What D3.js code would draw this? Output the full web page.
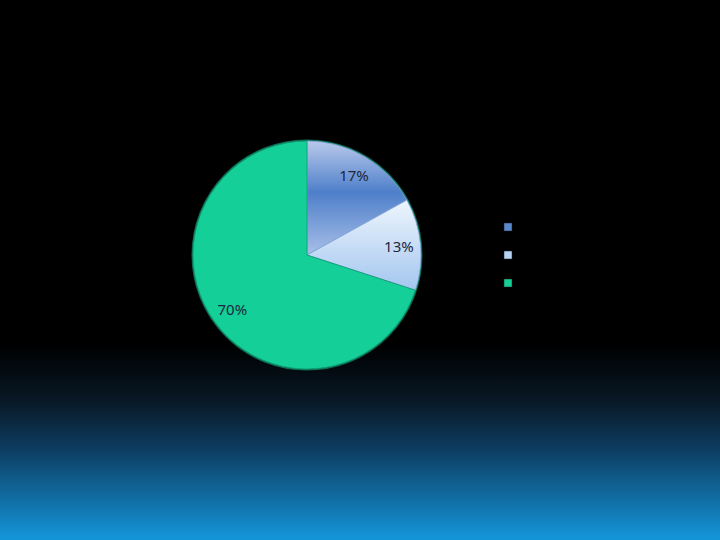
<!DOCTYPE html>
<html>
<head>
<meta charset="utf-8">
<script src="https://cdn.jsdelivr.net/npm/d3@7"></script>
<style>
  html, body { margin: 0; padding: 0; background: #000; }
</style>
</head>
<body>
<div id="chart"></div>
<script>
// === Data ===
const categories = ["A", "B", "C"];
const shares = [17, 13, 70];
const labels = ["17%", "13%", "70%"];

const W = 720, H = 540;
const svg = d3.select("#chart").append("svg")
  .attr("width", W).attr("height", H);

const defs = svg.append("defs");

// background: black, fading to blue at the bottom
const bg = defs.append("linearGradient").attr("id", "bg")
  .attr("x1", 0).attr("y1", 0).attr("x2", 0).attr("y2", 1);
bg.append("stop").attr("offset", "0.64").attr("stop-color", "#000000");
bg.append("stop").attr("offset", "0.74").attr("stop-color", "#081824");
bg.append("stop").attr("offset", "0.83").attr("stop-color", "#0d3c60");
bg.append("stop").attr("offset", "1").attr("stop-color", "#1496da");
svg.append("rect").attr("width", W).attr("height", H).attr("fill", "url(#bg)");

// slice fills
const g1 = defs.append("linearGradient").attr("id", "s0")
  .attr("x1", 0).attr("y1", 0).attr("x2", 0).attr("y2", 1);
g1.append("stop").attr("offset", "0").attr("stop-color", "#b9c9ea");
g1.append("stop").attr("offset", "0.45").attr("stop-color", "#4e7fca");
g1.append("stop").attr("offset", "1").attr("stop-color", "#a9bfe8");

const g2 = defs.append("linearGradient").attr("id", "s1")
  .attr("x1", 0).attr("y1", 0).attr("x2", 0).attr("y2", 1);
g2.append("stop").attr("offset", "0").attr("stop-color", "#eef5fd");
g2.append("stop").attr("offset", "1").attr("stop-color", "#a3c6ef");

const fills = ["url(#s0)", "url(#s1)", "#14cf97"];
const legendFills = ["#5b87cc", "#b7d3f4", "#14cf97"];

// === Pie ===
const cx = 307, cy = 255, R = 114;
const pie = d3.pie().sort(null).value(d => d);
const arcs = pie(shares);
const arc = d3.arc().innerRadius(0).outerRadius(R);
const labelArc = d3.arc().innerRadius(R * 0.81).outerRadius(R * 0.81);

const g = svg.append("g").attr("transform", `translate(${cx},${cy})`);

g.append("circle").attr("r", R + 0.5)
  .attr("fill", "none").attr("stroke", "#0b6e52").attr("stroke-width", 2);

g.selectAll(".slice")
  .data(arcs)
  .join("path")
  .attr("class", "slice")
  .attr("d", arc)
  .attr("fill", (d, i) => fills[i])
  .attr("stroke", (d, i) => i === 2 ? "#109c74" : "#7ea6dc")
  .attr("stroke-width", 0.8);

g.selectAll(".lbl")
  .data(arcs)
  .join("text")
  .attr("class", "lbl")
  .attr("transform", d => `translate(${labelArc.centroid(d)})`)
  .attr("text-anchor", "middle")
  .attr("dy", "0.35em")
  .attr("fill", "#1c2740")
  .attr("font-family", "'Noto Sans', sans-serif")
  .attr("font-size", 15)
  .text((d, i) => labels[i]);

// === Legend (swatches only, text not visible) ===
const leg = svg.append("g").attr("transform", "translate(504,223)");
leg.selectAll("rect")
  .data(categories)
  .join("rect")
  .attr("x", 0)
  .attr("y", (d, i) => i * 28)
  .attr("width", 8).attr("height", 8)
  .attr("fill", (d, i) => legendFills[i])
  .attr("stroke", "#222").attr("stroke-width", 0.5);
</script>
</body>
</html>
